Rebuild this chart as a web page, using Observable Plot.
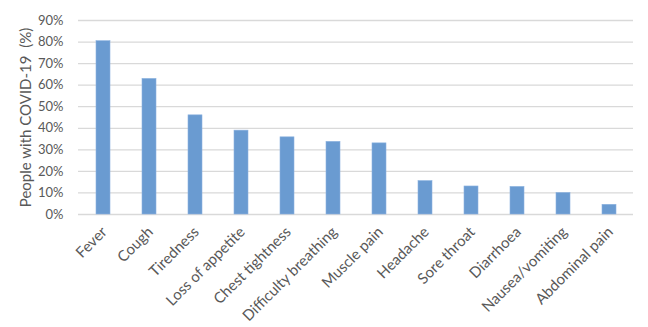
<!DOCTYPE html>
<html><head><meta charset="utf-8">
<script src="https://cdn.jsdelivr.net/npm/d3@7"></script>
<script src="https://cdn.jsdelivr.net/npm/@observablehq/plot@0.6"></script>
<style>body{margin:0;background:#fff} svg text{white-space:pre}</style>
</head><body><div id="chart"></div>
<script>
const symptoms = ["Fever","Cough","Tiredness","Loss of appetite","Chest tightness","Difficulty breathing","Muscle pain","Headache","Sore throat","Diarrhoea","Nausea/vomiting","Abdominal pain"];
const percents = [80.4, 62.9, 46.0, 38.9, 35.8, 33.7, 33.0, 15.5, 13.0, 12.8, 10.0, 4.5];
const yTicks = [0,10,20,30,40,50,60,70,80,90];
const yLabel = "People with COVID-19  (%)";

const data = symptoms.map((s,i)=>({symptom:s, value:percents[i]}));

const chart = Plot.plot({
  width: 648, height: 327,
  marginTop: 20, marginBottom: 113, marginLeft: 78, marginRight: 15,
  style: {fontFamily: "Lato, sans-serif", fontSize: "14px", color: "#595959", background: "#fff"},
  x: {domain: symptoms, paddingInner: 0.7, paddingOuter: 0.35, label: null},
  y: {domain: [0, 90], label: null},
  marks: [
    Plot.gridY(yTicks, {stroke: "#d9d9d9", strokeOpacity: 1, strokeWidth: 1.3}),
    Plot.barY(data, {x: "symptom", y: "value", fill: "#6a9bd1", stroke: "#8db3e0", strokeWidth: 0.6}),
    Plot.axisY(yTicks, {tickSize: 0, tickPadding: 15, tickFormat: d => d + "%", fontSize: 13, fill: "#595959"}),
    Plot.axisY({ticks: [], label: yLabel, labelAnchor: "center", labelArrow: "none", labelOffset: 58, fontSize: 15, fill: "#595959"}),
    Plot.axisX({tickSize: 0, tickRotate: -45, tickPadding: 15, dx: 1, fontSize: 15, fill: "#595959", label: null})
  ]
});
document.getElementById("chart").appendChild(chart);
</script></body></html>
